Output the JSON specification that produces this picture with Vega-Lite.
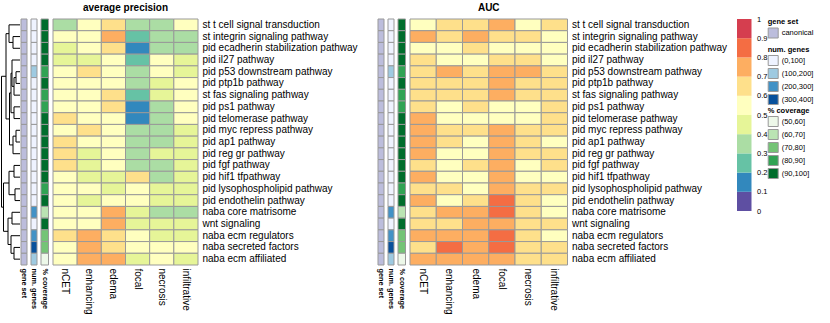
{
"$schema":"https://vega.github.io/schema/vega-lite/v6.json",
"padding":{"left":0,"top":2,"right":0,"bottom":0},
"bounds":"flush",
"spacing":4,
"resolve":{"scale":{"color":"independent"}},
"config":{"view":{"stroke":null},"font":"Liberation Sans","legend":{"padding":0,"labelColor":"#000","titleColor":"#000"},"axis":{"labelColor":"#000"},"title":{"color":"#000"}},
"datasets":{
"genes":[
{"g":"st t cell signal transduction","gs":"canonical","ng":"(0,100]","cov":"(90,100]"},
{"g":"st integrin signaling pathway","gs":"canonical","ng":"(0,100]","cov":"(90,100]"},
{"g":"pid ecadherin stabilization pathway","gs":"canonical","ng":"(0,100]","cov":"(90,100]"},
{"g":"pid il27 pathway","gs":"canonical","ng":"(0,100]","cov":"(90,100]"},
{"g":"pid p53 downstream pathway","gs":"canonical","ng":"(100,200]","cov":"(80,90]"},
{"g":"pid ptp1b pathway","gs":"canonical","ng":"(0,100]","cov":"(90,100]"},
{"g":"st fas signaling pathway","gs":"canonical","ng":"(0,100]","cov":"(80,90]"},
{"g":"pid ps1 pathway","gs":"canonical","ng":"(0,100]","cov":"(80,90]"},
{"g":"pid telomerase pathway","gs":"canonical","ng":"(0,100]","cov":"(90,100]"},
{"g":"pid myc repress pathway","gs":"canonical","ng":"(0,100]","cov":"(90,100]"},
{"g":"pid ap1 pathway","gs":"canonical","ng":"(0,100]","cov":"(90,100]"},
{"g":"pid reg gr pathway","gs":"canonical","ng":"(0,100]","cov":"(90,100]"},
{"g":"pid fgf pathway","gs":"canonical","ng":"(0,100]","cov":"(90,100]"},
{"g":"pid hif1 tfpathway","gs":"canonical","ng":"(0,100]","cov":"(90,100]"},
{"g":"pid lysophospholipid pathway","gs":"canonical","ng":"(0,100]","cov":"(80,90]"},
{"g":"pid endothelin pathway","gs":"canonical","ng":"(0,100]","cov":"(90,100]"},
{"g":"naba core matrisome","gs":"canonical","ng":"(200,300]","cov":"(60,70]"},
{"g":"wnt signaling","gs":"canonical","ng":"(0,100]","cov":"(90,100]"},
{"g":"naba ecm regulators","gs":"canonical","ng":"(200,300]","cov":"(70,80]"},
{"g":"naba secreted factors","gs":"canonical","ng":"(300,400]","cov":"(70,80]"},
{"g":"naba ecm affiliated","gs":"canonical","ng":"(100,200]","cov":"(50,60]"}
],
"bins":[
{"lo":0,"hi":0.1,"mid":0.05},{"lo":0.1,"hi":0.2,"mid":0.15},{"lo":0.2,"hi":0.3,"mid":0.25},{"lo":0.3,"hi":0.4,"mid":0.35},{"lo":0.4,"hi":0.5,"mid":0.45},
{"lo":0.5,"hi":0.6,"mid":0.55},{"lo":0.6,"hi":0.7,"mid":0.65},{"lo":0.7,"hi":0.8,"mid":0.75},{"lo":0.8,"hi":0.9,"mid":0.85},{"lo":0.9,"hi":1,"mid":0.95}
],
"cells":[
{"g":"st t cell signal transduction","r":"nCET","ap":0.35,"auc":0.55},
{"g":"st t cell signal transduction","r":"enhancing","ap":0.55,"auc":0.65},
{"g":"st t cell signal transduction","r":"edema","ap":0.65,"auc":0.65},
{"g":"st t cell signal transduction","r":"focal","ap":0.35,"auc":0.75},
{"g":"st t cell signal transduction","r":"necrosis","ap":0.35,"auc":0.55},
{"g":"st t cell signal transduction","r":"infiltrative","ap":0.55,"auc":0.65},
{"g":"st integrin signaling pathway","r":"nCET","ap":0.55,"auc":0.75},
{"g":"st integrin signaling pathway","r":"enhancing","ap":0.55,"auc":0.65},
{"g":"st integrin signaling pathway","r":"edema","ap":0.75,"auc":0.75},
{"g":"st integrin signaling pathway","r":"focal","ap":0.25,"auc":0.65},
{"g":"st integrin signaling pathway","r":"necrosis","ap":0.35,"auc":0.65},
{"g":"st integrin signaling pathway","r":"infiltrative","ap":0.35,"auc":0.55},
{"g":"pid ecadherin stabilization pathway","r":"nCET","ap":0.45,"auc":0.55},
{"g":"pid ecadherin stabilization pathway","r":"enhancing","ap":0.55,"auc":0.55},
{"g":"pid ecadherin stabilization pathway","r":"edema","ap":0.65,"auc":0.65},
{"g":"pid ecadherin stabilization pathway","r":"focal","ap":0.15,"auc":0.55},
{"g":"pid ecadherin stabilization pathway","r":"necrosis","ap":0.35,"auc":0.55},
{"g":"pid ecadherin stabilization pathway","r":"infiltrative","ap":0.35,"auc":0.55},
{"g":"pid il27 pathway","r":"nCET","ap":0.45,"auc":0.65},
{"g":"pid il27 pathway","r":"enhancing","ap":0.45,"auc":0.55},
{"g":"pid il27 pathway","r":"edema","ap":0.55,"auc":0.55},
{"g":"pid il27 pathway","r":"focal","ap":0.25,"auc":0.65},
{"g":"pid il27 pathway","r":"necrosis","ap":0.55,"auc":0.65},
{"g":"pid il27 pathway","r":"infiltrative","ap":0.45,"auc":0.55},
{"g":"pid p53 downstream pathway","r":"nCET","ap":0.55,"auc":0.65},
{"g":"pid p53 downstream pathway","r":"enhancing","ap":0.65,"auc":0.75},
{"g":"pid p53 downstream pathway","r":"edema","ap":0.55,"auc":0.65},
{"g":"pid p53 downstream pathway","r":"focal","ap":0.35,"auc":0.75},
{"g":"pid p53 downstream pathway","r":"necrosis","ap":0.55,"auc":0.75},
{"g":"pid p53 downstream pathway","r":"infiltrative","ap":0.45,"auc":0.65},
{"g":"pid ptp1b pathway","r":"nCET","ap":0.55,"auc":0.65},
{"g":"pid ptp1b pathway","r":"enhancing","ap":0.55,"auc":0.65},
{"g":"pid ptp1b pathway","r":"edema","ap":0.55,"auc":0.65},
{"g":"pid ptp1b pathway","r":"focal","ap":0.35,"auc":0.75},
{"g":"pid ptp1b pathway","r":"necrosis","ap":0.45,"auc":0.65},
{"g":"pid ptp1b pathway","r":"infiltrative","ap":0.55,"auc":0.65},
{"g":"st fas signaling pathway","r":"nCET","ap":0.55,"auc":0.65},
{"g":"st fas signaling pathway","r":"enhancing","ap":0.55,"auc":0.65},
{"g":"st fas signaling pathway","r":"edema","ap":0.65,"auc":0.65},
{"g":"st fas signaling pathway","r":"focal","ap":0.25,"auc":0.75},
{"g":"st fas signaling pathway","r":"necrosis","ap":0.45,"auc":0.65},
{"g":"st fas signaling pathway","r":"infiltrative","ap":0.55,"auc":0.65},
{"g":"pid ps1 pathway","r":"nCET","ap":0.55,"auc":0.65},
{"g":"pid ps1 pathway","r":"enhancing","ap":0.55,"auc":0.55},
{"g":"pid ps1 pathway","r":"edema","ap":0.65,"auc":0.65},
{"g":"pid ps1 pathway","r":"focal","ap":0.15,"auc":0.55},
{"g":"pid ps1 pathway","r":"necrosis","ap":0.35,"auc":0.55},
{"g":"pid ps1 pathway","r":"infiltrative","ap":0.55,"auc":0.65},
{"g":"pid telomerase pathway","r":"nCET","ap":0.65,"auc":0.75},
{"g":"pid telomerase pathway","r":"enhancing","ap":0.55,"auc":0.55},
{"g":"pid telomerase pathway","r":"edema","ap":0.55,"auc":0.55},
{"g":"pid telomerase pathway","r":"focal","ap":0.15,"auc":0.55},
{"g":"pid telomerase pathway","r":"necrosis","ap":0.35,"auc":0.55},
{"g":"pid telomerase pathway","r":"infiltrative","ap":0.55,"auc":0.65},
{"g":"pid myc repress pathway","r":"nCET","ap":0.55,"auc":0.75},
{"g":"pid myc repress pathway","r":"enhancing","ap":0.65,"auc":0.65},
{"g":"pid myc repress pathway","r":"edema","ap":0.55,"auc":0.65},
{"g":"pid myc repress pathway","r":"focal","ap":0.35,"auc":0.75},
{"g":"pid myc repress pathway","r":"necrosis","ap":0.35,"auc":0.65},
{"g":"pid myc repress pathway","r":"infiltrative","ap":0.45,"auc":0.65},
{"g":"pid ap1 pathway","r":"nCET","ap":0.65,"auc":0.75},
{"g":"pid ap1 pathway","r":"enhancing","ap":0.55,"auc":0.65},
{"g":"pid ap1 pathway","r":"edema","ap":0.55,"auc":0.55},
{"g":"pid ap1 pathway","r":"focal","ap":0.35,"auc":0.75},
{"g":"pid ap1 pathway","r":"necrosis","ap":0.35,"auc":0.65},
{"g":"pid ap1 pathway","r":"infiltrative","ap":0.45,"auc":0.55},
{"g":"pid reg gr pathway","r":"nCET","ap":0.65,"auc":0.75},
{"g":"pid reg gr pathway","r":"enhancing","ap":0.45,"auc":0.55},
{"g":"pid reg gr pathway","r":"edema","ap":0.55,"auc":0.55},
{"g":"pid reg gr pathway","r":"focal","ap":0.35,"auc":0.75},
{"g":"pid reg gr pathway","r":"necrosis","ap":0.45,"auc":0.65},
{"g":"pid reg gr pathway","r":"infiltrative","ap":0.45,"auc":0.65},
{"g":"pid fgf pathway","r":"nCET","ap":0.65,"auc":0.65},
{"g":"pid fgf pathway","r":"enhancing","ap":0.45,"auc":0.55},
{"g":"pid fgf pathway","r":"edema","ap":0.55,"auc":0.65},
{"g":"pid fgf pathway","r":"focal","ap":0.35,"auc":0.75},
{"g":"pid fgf pathway","r":"necrosis","ap":0.35,"auc":0.55},
{"g":"pid fgf pathway","r":"infiltrative","ap":0.45,"auc":0.65},
{"g":"pid hif1 tfpathway","r":"nCET","ap":0.55,"auc":0.75},
{"g":"pid hif1 tfpathway","r":"enhancing","ap":0.45,"auc":0.55},
{"g":"pid hif1 tfpathway","r":"edema","ap":0.45,"auc":0.55},
{"g":"pid hif1 tfpathway","r":"focal","ap":0.65,"auc":0.75},
{"g":"pid hif1 tfpathway","r":"necrosis","ap":0.35,"auc":0.55},
{"g":"pid hif1 tfpathway","r":"infiltrative","ap":0.45,"auc":0.55},
{"g":"pid lysophospholipid pathway","r":"nCET","ap":0.55,"auc":0.65},
{"g":"pid lysophospholipid pathway","r":"enhancing","ap":0.55,"auc":0.65},
{"g":"pid lysophospholipid pathway","r":"edema","ap":0.45,"auc":0.55},
{"g":"pid lysophospholipid pathway","r":"focal","ap":0.55,"auc":0.75},
{"g":"pid lysophospholipid pathway","r":"necrosis","ap":0.45,"auc":0.65},
{"g":"pid lysophospholipid pathway","r":"infiltrative","ap":0.45,"auc":0.65},
{"g":"pid endothelin pathway","r":"nCET","ap":0.55,"auc":0.75},
{"g":"pid endothelin pathway","r":"enhancing","ap":0.45,"auc":0.55},
{"g":"pid endothelin pathway","r":"edema","ap":0.55,"auc":0.65},
{"g":"pid endothelin pathway","r":"focal","ap":0.55,"auc":0.85},
{"g":"pid endothelin pathway","r":"necrosis","ap":0.45,"auc":0.65},
{"g":"pid endothelin pathway","r":"infiltrative","ap":0.45,"auc":0.55},
{"g":"naba core matrisome","r":"nCET","ap":0.55,"auc":0.65},
{"g":"naba core matrisome","r":"enhancing","ap":0.55,"auc":0.75},
{"g":"naba core matrisome","r":"edema","ap":0.75,"auc":0.75},
{"g":"naba core matrisome","r":"focal","ap":0.45,"auc":0.85},
{"g":"naba core matrisome","r":"necrosis","ap":0.35,"auc":0.65},
{"g":"naba core matrisome","r":"infiltrative","ap":0.35,"auc":0.55},
{"g":"wnt signaling","r":"nCET","ap":0.55,"auc":0.65},
{"g":"wnt signaling","r":"enhancing","ap":0.55,"auc":0.65},
{"g":"wnt signaling","r":"edema","ap":0.75,"auc":0.75},
{"g":"wnt signaling","r":"focal","ap":0.45,"auc":0.75},
{"g":"wnt signaling","r":"necrosis","ap":0.45,"auc":0.65},
{"g":"wnt signaling","r":"infiltrative","ap":0.45,"auc":0.65},
{"g":"naba ecm regulators","r":"nCET","ap":0.65,"auc":0.75},
{"g":"naba ecm regulators","r":"enhancing","ap":0.75,"auc":0.75},
{"g":"naba ecm regulators","r":"edema","ap":0.65,"auc":0.75},
{"g":"naba ecm regulators","r":"focal","ap":0.55,"auc":0.85},
{"g":"naba ecm regulators","r":"necrosis","ap":0.45,"auc":0.65},
{"g":"naba ecm regulators","r":"infiltrative","ap":0.45,"auc":0.55},
{"g":"naba secreted factors","r":"nCET","ap":0.55,"auc":0.65},
{"g":"naba secreted factors","r":"enhancing","ap":0.75,"auc":0.85},
{"g":"naba secreted factors","r":"edema","ap":0.65,"auc":0.75},
{"g":"naba secreted factors","r":"focal","ap":0.55,"auc":0.85},
{"g":"naba secreted factors","r":"necrosis","ap":0.55,"auc":0.65},
{"g":"naba secreted factors","r":"infiltrative","ap":0.55,"auc":0.65},
{"g":"naba ecm affiliated","r":"nCET","ap":0.55,"auc":0.75},
{"g":"naba ecm affiliated","r":"enhancing","ap":0.75,"auc":0.75},
{"g":"naba ecm affiliated","r":"edema","ap":0.75,"auc":0.75},
{"g":"naba ecm affiliated","r":"focal","ap":0.45,"auc":0.75},
{"g":"naba ecm affiliated","r":"necrosis","ap":0.55,"auc":0.65},
{"g":"naba ecm affiliated","r":"infiltrative","ap":0.45,"auc":0.65}
],
"dendro":[
{"h":7,"h2":7,"y":1.5,"y2":2.5},{"h":0,"h2":7,"y":1.5,"y2":1.5},{"h":0,"h2":7,"y":2.5,"y2":2.5},
{"h":11,"h2":11,"y":0.5,"y2":2.0},{"h":0,"h2":11,"y":0.5,"y2":0.5},{"h":7,"h2":11,"y":2.0,"y2":2.0},
{"h":4,"h2":4,"y":4.5,"y2":5.5},{"h":0,"h2":4,"y":4.5,"y2":4.5},{"h":0,"h2":4,"y":5.5,"y2":5.5},
{"h":6,"h2":6,"y":5.0,"y2":6.5},{"h":4,"h2":6,"y":5.0,"y2":5.0},{"h":0,"h2":6,"y":6.5,"y2":6.5},
{"h":8,"h2":8,"y":3.5,"y2":5.75},{"h":0,"h2":8,"y":3.5,"y2":3.5},{"h":6,"h2":8,"y":5.75,"y2":5.75},
{"h":6,"h2":6,"y":7.5,"y2":8.5},{"h":0,"h2":6,"y":7.5,"y2":7.5},{"h":0,"h2":6,"y":8.5,"y2":8.5},
{"h":9,"h2":9,"y":4.625,"y2":8.0},{"h":8,"h2":9,"y":4.625,"y2":4.625},{"h":6,"h2":9,"y":8.0,"y2":8.0},
{"h":4,"h2":4,"y":9.5,"y2":10.5},{"h":0,"h2":4,"y":9.5,"y2":9.5},{"h":0,"h2":4,"y":10.5,"y2":10.5},
{"h":7,"h2":7,"y":10.0,"y2":11.5},{"h":4,"h2":7,"y":10.0,"y2":10.0},{"h":0,"h2":7,"y":11.5,"y2":11.5},
{"h":10.5,"h2":10.5,"y":6.3125,"y2":10.75},{"h":9,"h2":10.5,"y":6.3125,"y2":6.3125},{"h":7,"h2":10.5,"y":10.75,"y2":10.75},
{"h":14,"h2":14,"y":1.25,"y2":8.53125},{"h":11,"h2":14,"y":1.25,"y2":1.25},{"h":10.5,"h2":14,"y":8.53125,"y2":8.53125},
{"h":6,"h2":6,"y":12.5,"y2":13.5},{"h":0,"h2":6,"y":12.5,"y2":12.5},{"h":0,"h2":6,"y":13.5,"y2":13.5},
{"h":5,"h2":5,"y":14.5,"y2":15.5},{"h":0,"h2":5,"y":14.5,"y2":14.5},{"h":0,"h2":5,"y":15.5,"y2":15.5},
{"h":11,"h2":11,"y":13.0,"y2":15.0},{"h":6,"h2":11,"y":13.0,"y2":13.0},{"h":5,"h2":11,"y":15.0,"y2":15.0},
{"h":8,"h2":8,"y":16.5,"y2":17.5},{"h":0,"h2":8,"y":16.5,"y2":16.5},{"h":0,"h2":8,"y":17.5,"y2":17.5},
{"h":6,"h2":6,"y":19.5,"y2":20.5},{"h":0,"h2":6,"y":19.5,"y2":19.5},{"h":0,"h2":6,"y":20.5,"y2":20.5},
{"h":9,"h2":9,"y":18.5,"y2":20.0},{"h":0,"h2":9,"y":18.5,"y2":18.5},{"h":6,"h2":9,"y":20.0,"y2":20.0},
{"h":12,"h2":12,"y":17.0,"y2":19.25},{"h":8,"h2":12,"y":17.0,"y2":17.0},{"h":9,"h2":12,"y":19.25,"y2":19.25},
{"h":16.5,"h2":16.5,"y":14.0,"y2":18.125},{"h":11,"h2":16.5,"y":14.0,"y2":14.0},{"h":12,"h2":16.5,"y":18.125,"y2":18.125},
{"h":18.5,"h2":18.5,"y":4.890625,"y2":16.0625},{"h":14,"h2":18.5,"y":4.890625,"y2":4.890625},{"h":16.5,"h2":18.5,"y":16.0625,"y2":16.0625}
]
},
"hconcat":[
{"width":17,"height":246,"data":{"name":"dendro"},"mark":{"type":"rule","color":"#000","strokeWidth":1},
"encoding":{"x":{"field":"h","type":"quantitative","scale":{"domain":[3,20],"reverse":true,"nice":false,"zero":false},"axis":null},"x2":{"field":"h2"},
"y":{"field":"y","type":"quantitative","scale":{"domain":[0,21],"reverse":true,"nice":false},"axis":null},"y2":{"field":"y2"}}},
{"width":6,"height":246,"data":{"name":"genes"},"mark":{"type":"rect","stroke":"#999999","strokeWidth":1},
"encoding":{"x":{"datum":"gene set","type":"nominal","axis":{"title":null,"labelAngle":90,"labelFontSize":7.3,"labelFontWeight":"bold","ticks":false,"domain":false,"labelPadding":3}},
"y":{"field":"g","type":"nominal","sort":null,"axis":null},
"color":{"field":"gs","type":"nominal","scale":{"domain":["canonical"],"range":["#BCBDDC"]},"legend":null}}},
{"width":6,"height":246,"data":{"name":"genes"},"mark":{"type":"rect","stroke":"#999999","strokeWidth":1},
"encoding":{"x":{"datum":"num. genes","type":"nominal","axis":{"title":null,"labelAngle":90,"labelFontSize":7.3,"labelFontWeight":"bold","ticks":false,"domain":false,"labelPadding":3}},
"y":{"field":"g","type":"nominal","sort":null,"axis":null},
"color":{"field":"ng","type":"nominal","scale":{"domain":["(0,100]","(100,200]","(200,300]","(300,400]"],"range":["#EFF3FF","#9ECAE1","#4292C6","#08519C"]},"legend":null}}},
{"width":7.5,"height":246,"data":{"name":"genes"},"mark":{"type":"rect","stroke":"#999999","strokeWidth":1},
"encoding":{"x":{"datum":"% coverage","type":"nominal","axis":{"title":null,"labelAngle":90,"labelFontSize":7.3,"labelFontWeight":"bold","ticks":false,"domain":false,"labelPadding":3}},
"y":{"field":"g","type":"nominal","sort":null,"axis":null},
"color":{"field":"cov","type":"nominal","scale":{"domain":["(50,60]","(60,70]","(70,80]","(80,90]","(90,100]"],"range":["#EDF8E9","#BAE4B3","#74C476","#31A354","#006D2C"]},"legend":null}}},
{"width":145,"height":246,"title":{"text":"average precision","fontSize":10,"fontWeight":"bold","offset":6},"data":{"name":"cells"},"mark":{"type":"rect","stroke":"#999999","strokeWidth":1},
"encoding":{"x":{"field":"r","type":"nominal","sort":null,"axis":{"title":null,"labelAngle":90,"labelFontSize":10,"ticks":false,"domain":false,"labelPadding":3}},
"y":{"field":"g","type":"nominal","sort":null,"axis":{"orient":"right","title":null,"ticks":false,"domain":false,"labelFontSize":10,"labelPadding":4}},
"color":{"field":"ap","type":"quantitative","scale":{"type":"quantize","domain":[0,1],"nice":false,"range":["#5E4FA2","#3288BD","#66C2A5","#ABDDA4","#E6F598","#FFFFBF","#FEE08B","#FDAE61","#F46D43","#D53E4F"]},"legend":null}}},
{"width":171.5,"height":246,"data":{"values":[]},"mark":{"type":"rect"},"encoding":{}},
{"width":6,"height":246,"data":{"name":"genes"},"mark":{"type":"rect","stroke":"#999999","strokeWidth":1},
"encoding":{"x":{"datum":"gene set","type":"nominal","axis":{"title":null,"labelAngle":90,"labelFontSize":7.3,"labelFontWeight":"bold","ticks":false,"domain":false,"labelPadding":3}},
"y":{"field":"g","type":"nominal","sort":null,"axis":null},
"color":{"field":"gs","type":"nominal","scale":{"domain":["canonical"],"range":["#BCBDDC"]},
"legend":{"orient":"none","legendX":389.7,"legendY":-1,"title":"gene set","titleFontSize":7.5,"titleFontWeight":"bold","labelFontSize":7.5,"symbolType":"square","symbolSize":100,"symbolStrokeColor":"#999999","symbolStrokeWidth":1,"titlePadding":2,"labelOffset":3,"rowPadding":-3}}}},
{"width":6,"height":246,"data":{"name":"genes"},"mark":{"type":"rect","stroke":"#999999","strokeWidth":1},
"encoding":{"x":{"datum":"num. genes","type":"nominal","axis":{"title":null,"labelAngle":90,"labelFontSize":7.3,"labelFontWeight":"bold","ticks":false,"domain":false,"labelPadding":3}},
"y":{"field":"g","type":"nominal","sort":null,"axis":null},
"color":{"field":"ng","type":"nominal","scale":{"domain":["(0,100]","(100,200]","(200,300]","(300,400]"],"range":["#EFF3FF","#9ECAE1","#4292C6","#08519C"]},
"legend":{"orient":"none","legendX":379.7,"legendY":26.5,"title":"num. genes","titleFontSize":7.5,"titleFontWeight":"bold","labelFontSize":7.5,"symbolType":"square","symbolSize":100,"symbolStrokeColor":"#999999","symbolStrokeWidth":1,"titlePadding":2,"labelOffset":3,"rowPadding":-3}}}},
{"width":7.5,"height":246,"data":{"name":"genes"},"mark":{"type":"rect","stroke":"#999999","strokeWidth":1},
"encoding":{"x":{"datum":"% coverage","type":"nominal","axis":{"title":null,"labelAngle":90,"labelFontSize":7.3,"labelFontWeight":"bold","ticks":false,"domain":false,"labelPadding":3}},
"y":{"field":"g","type":"nominal","sort":null,"axis":null},
"color":{"field":"cov","type":"nominal","scale":{"domain":["(50,60]","(60,70]","(70,80]","(80,90]","(90,100]"],"range":["#EDF8E9","#BAE4B3","#74C476","#31A354","#006D2C"]},
"legend":{"orient":"none","legendX":369.7,"legendY":87.5,"title":"% coverage","titleFontSize":7.5,"titleFontWeight":"bold","labelFontSize":7.5,"symbolType":"square","symbolSize":100,"symbolStrokeColor":"#999999","symbolStrokeWidth":1,"titlePadding":2,"labelOffset":3,"rowPadding":-3}}}},
{"width":157.5,"height":246,"title":{"text":"AUC","fontSize":10,"fontWeight":"bold","offset":6},"data":{"name":"cells"},"mark":{"type":"rect","stroke":"#999999","strokeWidth":1},
"encoding":{"x":{"field":"r","type":"nominal","sort":null,"axis":{"title":null,"labelAngle":90,"labelFontSize":10,"ticks":false,"domain":false,"labelPadding":3}},
"y":{"field":"g","type":"nominal","sort":null,"axis":{"orient":"right","title":null,"ticks":false,"domain":false,"labelFontSize":10,"labelPadding":4}},
"color":{"field":"auc","type":"quantitative","scale":{"type":"quantize","domain":[0,1],"nice":false,"range":["#5E4FA2","#3288BD","#66C2A5","#ABDDA4","#E6F598","#FFFFBF","#FEE08B","#FDAE61","#F46D43","#D53E4F"]},"legend":null}}},
{"width":161,"height":246,"data":{"values":[]},"mark":{"type":"rect"},"encoding":{}},
{"width":14.5,"height":192,"data":{"name":"bins"},"mark":{"type":"rect"},
"encoding":{"y":{"field":"lo","type":"quantitative","scale":{"domain":[0,1],"nice":false,"zero":false},"axis":{"orient":"right","title":null,"values":[0,0.1,0.2,0.3,0.4,0.5,0.6,0.7,0.8,0.9,1],"format":"~g","ticks":false,"domain":false,"grid":false,"labelFontSize":7.5,"labelPadding":5,"labelFlush":false,"labelColor":"#000"}},
"y2":{"field":"hi"},
"color":{"field":"mid","type":"quantitative","scale":{"type":"quantize","domain":[0,1],"nice":false,"range":["#5E4FA2","#3288BD","#66C2A5","#ABDDA4","#E6F598","#FFFFBF","#FEE08B","#FDAE61","#F46D43","#D53E4F"]},"legend":null}}}
]
}
